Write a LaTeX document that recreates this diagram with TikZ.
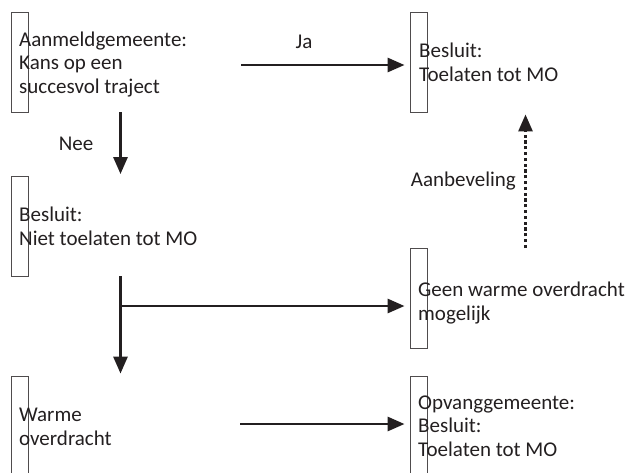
\documentclass[tikz,border=0pt]{standalone}
\usepackage{fontspec}
\setmainfont{Carlito}
\usetikzlibrary{arrows.meta}
\definecolor{inkt}{HTML}{231F20}
\tikzset{
    vak/.style={draw=inkt!80, line width=0.9pt, minimum width=17pt, minimum height=100pt, inner sep=0pt},
    tekst/.style={anchor=base west, align=left, inner sep=0pt, text=inkt, font=\fontsize{21}{23.5}\selectfont},
    pijl/.style={-{Triangle[length=17pt, width=14pt]}, line width=2.9pt, draw=inkt},
    stippel/.style={pijl, dash pattern=on 3.2pt off 2.6pt}
}
\begin{document}
\begin{tikzpicture}[x=1pt, y=-1pt]
            \useasboundingbox (0, 0) rectangle (628, 472);

            % vakken links en rechts
            \node[vak] (b1) at (19.5, 62) {};    \node[vak] (b2) at (419, 62) {};
            \node[vak] (b3) at (19.5, 226.5) {}; \node[vak] (b4) at (419, 298.5) {};
            \node[vak] (b5) at (19.5, 426) {};   \node[vak] (b6) at (419, 426) {};

            % teksten, geplaatst op de basislijn van de laatste regel
            \node[tekst] (t1) at (19, 93) {Aanmeldgemeente:\\Kans op een\\succesvol traject};
            \node[tekst] (t2) at (419, 81) {Besluit:\\Toelaten tot MO};
            \node[tekst] (t3) at (19, 245) {Besluit:\\Niet toelaten tot MO};
            \node[tekst] (t4) at (418, 320) {Geen warme overdracht\\mogelijk};
            \node[tekst] (t5) at (19, 445) {Warme\\overdracht};
            \node[tekst] (t6) at (418, 456) {Opvanggemeente:\\Besluit:\\Toelaten tot MO};

            % labels bij de pijlen
            \node[tekst, anchor=base] (ja) at (304, 48) {Ja};
            \node[tekst, anchor=base] (nee) at (76, 150) {Nee};
            \node[tekst, anchor=base east] (advies) at (516, 186) {Aanbeveling};

            % losse beginpunten
            \coordinate (pja) at (241, 65);
            \coordinate (pnee) at (120.5, 112);
            \coordinate (ptak) at (120.5, 276);
            \coordinate (psplits) at (120.5, 306);
            \coordinate (pwarm) at (240, 424);
            \coordinate (padvies) at (525.5, 248);

            \draw[pijl, shorten >=5.5pt] (pja) -- (pja -| b2.west);           % ja
            \draw[pijl, shorten >=2pt] (pnee) -- (pnee |- b3.north);           % nee
            \draw[pijl, shorten >=2pt] (ptak) -- (ptak |- b5.north);           % warme overdracht
            \draw[pijl, shorten >=5.5pt] (psplits) -- (psplits -| b4.west);    % geen warme overdracht
            \draw[pijl, shorten >=5.5pt] (pwarm) -- (pwarm -| b6.west);        % opvanggemeente
            \draw[stippel, shorten >=2pt] (padvies) -- (padvies |- b2.south);  % aanbeveling
        \end{tikzpicture}
\end{document}
